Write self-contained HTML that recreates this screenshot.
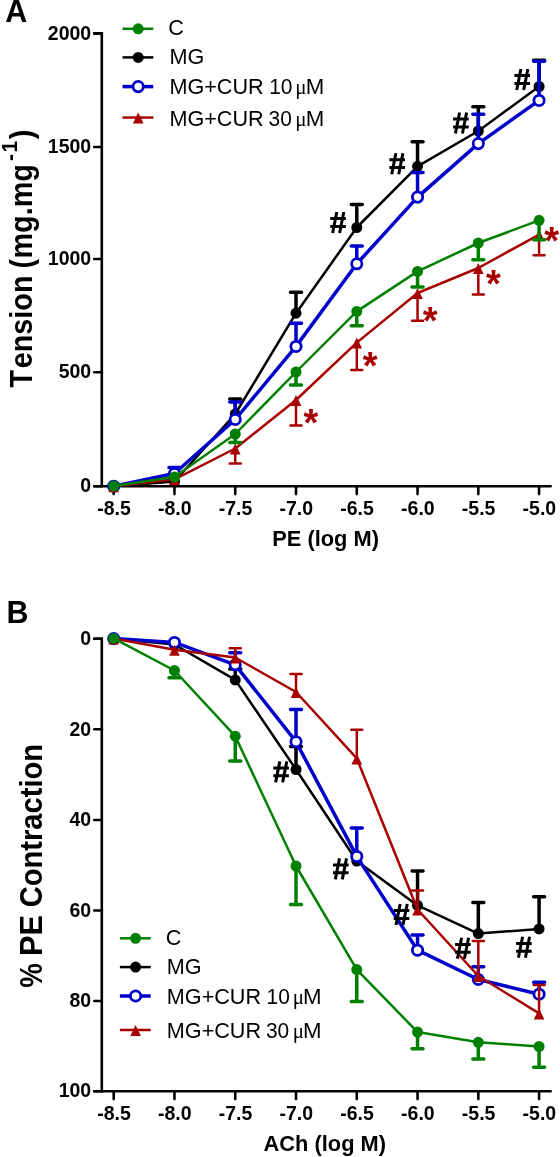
<!DOCTYPE html>
<html><head><meta charset="utf-8"><style>
html,body{margin:0;padding:0;background:#fff;}
body{width:560px;height:1157px;overflow:hidden;}
svg{display:block;filter:blur(0.3px);}
text{font-family:"Liberation Sans",sans-serif;fill:#000;}
.tk{font-size:20.1px;font-weight:bold;}
.at{font-size:22.5px;font-weight:bold;}
.yt{font-weight:bold;}
.pl{font-size:30.5px;font-weight:bold;}
.lg{font-size:21.6px;}
.mu{font-size:21px;font-family:"Liberation Serif",serif;}
.st{font-size:38px;font-weight:bold;fill:#A80000;}
</style></head><body>
<svg width="560" height="1157" viewBox="0 0 560 1157">
<rect width="560" height="1157" fill="#fff"/>
<path d="M94.3,33.40 H101.8 V486.20" stroke="#000" stroke-width="2.6" fill="none" stroke-linecap="round" stroke-linejoin="miter"/>
<path d="M94.3,486.20 H550.6" stroke="#000" stroke-width="2.6" fill="none" stroke-linecap="round"/>
<path d="M94.3,33.40 H101.8" stroke="#000" stroke-width="2.6" stroke-linecap="round"/>
<path d="M94.3,147.00 H101.8" stroke="#000" stroke-width="2.6" stroke-linecap="round"/>
<path d="M94.3,259.00 H101.8" stroke="#000" stroke-width="2.6" stroke-linecap="round"/>
<path d="M94.3,372.20 H101.8" stroke="#000" stroke-width="2.6" stroke-linecap="round"/>
<path d="M94.3,486.20 H101.8" stroke="#000" stroke-width="2.6" stroke-linecap="round"/>
<path d="M113.70,486.20 V494.10" stroke="#000" stroke-width="2.6" stroke-linecap="round"/>
<path d="M174.47,486.20 V494.10" stroke="#000" stroke-width="2.6" stroke-linecap="round"/>
<path d="M235.24,486.20 V494.10" stroke="#000" stroke-width="2.6" stroke-linecap="round"/>
<path d="M296.01,486.20 V494.10" stroke="#000" stroke-width="2.6" stroke-linecap="round"/>
<path d="M356.78,486.20 V494.10" stroke="#000" stroke-width="2.6" stroke-linecap="round"/>
<path d="M417.55,486.20 V494.10" stroke="#000" stroke-width="2.6" stroke-linecap="round"/>
<path d="M478.32,486.20 V494.10" stroke="#000" stroke-width="2.6" stroke-linecap="round"/>
<path d="M539.09,486.20 V494.10" stroke="#000" stroke-width="2.6" stroke-linecap="round"/>
<text transform="translate(91.20,39.60) scale(0.970,1)" class="tk" text-anchor="end">2000</text>
<text transform="translate(91.20,153.20) scale(0.970,1)" class="tk" text-anchor="end">1500</text>
<text transform="translate(91.20,265.20) scale(0.970,1)" class="tk" text-anchor="end">1000</text>
<text transform="translate(91.20,378.40) scale(0.970,1)" class="tk" text-anchor="end">500</text>
<text transform="translate(91.20,492.40) scale(0.970,1)" class="tk" text-anchor="end">0</text>
<text transform="translate(114.00,515.20) scale(0.970,1)" class="tk" text-anchor="middle">-8.5</text>
<text transform="translate(174.77,515.20) scale(0.970,1)" class="tk" text-anchor="middle">-8.0</text>
<text transform="translate(235.54,515.20) scale(0.970,1)" class="tk" text-anchor="middle">-7.5</text>
<text transform="translate(296.31,515.20) scale(0.970,1)" class="tk" text-anchor="middle">-7.0</text>
<text transform="translate(357.08,515.20) scale(0.970,1)" class="tk" text-anchor="middle">-6.5</text>
<text transform="translate(417.85,515.20) scale(0.970,1)" class="tk" text-anchor="middle">-6.0</text>
<text transform="translate(478.62,515.20) scale(0.970,1)" class="tk" text-anchor="middle">-5.5</text>
<text transform="translate(539.39,515.20) scale(0.970,1)" class="tk" text-anchor="middle">-5.0</text>
<text transform="translate(325.60,545.80) scale(0.970,1)" class="at" text-anchor="middle">PE (log M)</text>
<text transform="translate(31.80,387.46) rotate(-90) scale(0.930,1)" font-size="31.00" class="yt">T</text>
<text transform="translate(31.80,368.35) rotate(-90) scale(0.930,1)" font-size="31.00" class="yt">ension</text>
<text transform="translate(31.80,268.44) rotate(-90) scale(0.930,1)" font-size="31.00" class="yt">(</text>
<text transform="translate(31.80,258.57) rotate(-90) scale(0.930,1)" font-size="31.00" class="yt">mg.mg</text>
<text transform="translate(31.80,139.27) rotate(-90) scale(0.930,1)" font-size="31.00" class="yt">)</text>
<text transform="translate(17.40,161.04) rotate(-90) scale(0.930,1)" font-size="22.50" class="yt">-</text>
<text transform="translate(17.40,152.56) rotate(-90) scale(0.930,1)" font-size="22.50" class="yt">1</text>
<text transform="translate(5.20,22.10) scale(1.000,1)" class="pl">A</text>
<path d="M113.70,486.20 L174.47,481.50 L235.24,414.00 L296.01,313.20 L356.78,227.50 L417.55,166.30 L478.32,131.00 L539.09,86.50" fill="none" stroke="#000000" stroke-width="2.5" stroke-linejoin="round"/>
<path d="M235.24,414.00 V399.00 M229.74,399.00 H240.74" stroke="#000000" stroke-width="3.5" stroke-linecap="round" fill="none"/>
<path d="M296.01,313.20 V292.20 M290.51,292.20 H301.51" stroke="#000000" stroke-width="3.5" stroke-linecap="round" fill="none"/>
<path d="M356.78,227.50 V204.50 M351.28,204.50 H362.28" stroke="#000000" stroke-width="3.5" stroke-linecap="round" fill="none"/>
<path d="M417.55,166.30 V141.80 M412.05,141.80 H423.05" stroke="#000000" stroke-width="3.5" stroke-linecap="round" fill="none"/>
<path d="M478.32,131.00 V106.80 M472.82,106.80 H483.82" stroke="#000000" stroke-width="3.5" stroke-linecap="round" fill="none"/>
<path d="M539.09,86.50 V60.20 M533.59,60.20 H544.59" stroke="#000000" stroke-width="3.5" stroke-linecap="round" fill="none"/>
<circle cx="113.70" cy="486.20" r="5.5" fill="#000000"/>
<circle cx="174.47" cy="481.50" r="5.5" fill="#000000"/>
<circle cx="235.24" cy="414.00" r="5.5" fill="#000000"/>
<circle cx="296.01" cy="313.20" r="5.5" fill="#000000"/>
<circle cx="356.78" cy="227.50" r="5.5" fill="#000000"/>
<circle cx="417.55" cy="166.30" r="5.5" fill="#000000"/>
<circle cx="478.32" cy="131.00" r="5.5" fill="#000000"/>
<circle cx="539.09" cy="86.50" r="5.5" fill="#000000"/>
<path d="M113.70,486.20 L174.47,473.50 L235.24,419.50 L296.01,346.40 L356.78,263.80 L417.55,197.10 L478.32,143.60 L539.09,100.40" fill="none" stroke="#0000CC" stroke-width="3.5" stroke-linejoin="round"/>
<path d="M174.47,473.50 V467.60 M168.97,467.60 H179.97" stroke="#0000CC" stroke-width="3.5" stroke-linecap="round" fill="none"/>
<path d="M235.24,419.50 V402.10 M229.74,402.10 H240.74" stroke="#0000CC" stroke-width="3.5" stroke-linecap="round" fill="none"/>
<path d="M296.01,346.40 V323.20 M290.51,323.20 H301.51" stroke="#0000CC" stroke-width="3.5" stroke-linecap="round" fill="none"/>
<path d="M356.78,263.80 V246.00 M351.28,246.00 H362.28" stroke="#0000CC" stroke-width="3.5" stroke-linecap="round" fill="none"/>
<path d="M417.55,197.10 V172.40 M412.05,172.40 H423.05" stroke="#0000CC" stroke-width="3.5" stroke-linecap="round" fill="none"/>
<path d="M478.32,143.60 V114.20 M472.82,114.20 H483.82" stroke="#0000CC" stroke-width="3.5" stroke-linecap="round" fill="none"/>
<path d="M539.09,100.40 V61.20 M533.59,61.20 H544.59" stroke="#0000CC" stroke-width="3.5" stroke-linecap="round" fill="none"/>
<circle cx="113.70" cy="486.20" r="5.15" fill="#fff" stroke="#0000CC" stroke-width="2.75"/>
<circle cx="174.47" cy="473.50" r="5.15" fill="#fff" stroke="#0000CC" stroke-width="2.75"/>
<circle cx="235.24" cy="419.50" r="5.15" fill="#fff" stroke="#0000CC" stroke-width="2.75"/>
<circle cx="296.01" cy="346.40" r="5.15" fill="#fff" stroke="#0000CC" stroke-width="2.75"/>
<circle cx="356.78" cy="263.80" r="5.15" fill="#fff" stroke="#0000CC" stroke-width="2.75"/>
<circle cx="417.55" cy="197.10" r="5.15" fill="#fff" stroke="#0000CC" stroke-width="2.75"/>
<circle cx="478.32" cy="143.60" r="5.15" fill="#fff" stroke="#0000CC" stroke-width="2.75"/>
<circle cx="539.09" cy="100.40" r="5.15" fill="#fff" stroke="#0000CC" stroke-width="2.75"/>
<path d="M113.70,486.20 L174.47,479.30 L235.24,448.50 L296.01,400.00 L356.78,342.60 L417.55,293.00 L478.32,268.00 L539.09,234.60" fill="none" stroke="#A80000" stroke-width="2.5" stroke-linejoin="round"/>
<path d="M235.24,448.50 V463.40 M229.74,463.40 H240.74" stroke="#A80000" stroke-width="2.5" stroke-linecap="round" fill="none"/>
<path d="M296.01,400.00 V425.50 M290.51,425.50 H301.51" stroke="#A80000" stroke-width="2.5" stroke-linecap="round" fill="none"/>
<path d="M356.78,342.60 V370.10 M351.28,370.10 H362.28" stroke="#A80000" stroke-width="2.5" stroke-linecap="round" fill="none"/>
<path d="M417.55,293.00 V320.70 M412.05,320.70 H423.05" stroke="#A80000" stroke-width="2.5" stroke-linecap="round" fill="none"/>
<path d="M478.32,268.00 V294.40 M472.82,294.40 H483.82" stroke="#A80000" stroke-width="2.5" stroke-linecap="round" fill="none"/>
<path d="M539.09,234.60 V255.20 M533.59,255.20 H544.59" stroke="#A80000" stroke-width="2.5" stroke-linecap="round" fill="none"/>
<path d="M113.70,481.20 L119.00,492.20 L108.40,492.20 Z" fill="#A80000"/>
<path d="M174.47,474.30 L179.77,485.30 L169.17,485.30 Z" fill="#A80000"/>
<path d="M235.24,443.50 L240.54,454.50 L229.94,454.50 Z" fill="#A80000"/>
<path d="M296.01,395.00 L301.31,406.00 L290.71,406.00 Z" fill="#A80000"/>
<path d="M356.78,337.60 L362.08,348.60 L351.48,348.60 Z" fill="#A80000"/>
<path d="M417.55,288.00 L422.85,299.00 L412.25,299.00 Z" fill="#A80000"/>
<path d="M478.32,263.00 L483.62,274.00 L473.02,274.00 Z" fill="#A80000"/>
<path d="M539.09,229.60 L544.39,240.60 L533.79,240.60 Z" fill="#A80000"/>
<path d="M113.70,486.00 L174.47,477.10 L235.24,434.00 L296.01,372.00 L356.78,311.40 L417.55,271.40 L478.32,243.00 L539.09,220.30" fill="none" stroke="#008000" stroke-width="2.5" stroke-linejoin="round"/>
<path d="M235.24,434.00 V442.50 M229.74,442.50 H240.74" stroke="#008000" stroke-width="3.5" stroke-linecap="round" fill="none"/>
<path d="M296.01,372.00 V385.10 M290.51,385.10 H301.51" stroke="#008000" stroke-width="3.5" stroke-linecap="round" fill="none"/>
<path d="M356.78,311.40 V325.70 M351.28,325.70 H362.28" stroke="#008000" stroke-width="3.5" stroke-linecap="round" fill="none"/>
<path d="M417.55,271.40 V287.00 M412.05,287.00 H423.05" stroke="#008000" stroke-width="3.5" stroke-linecap="round" fill="none"/>
<path d="M478.32,243.00 V259.80 M472.82,259.80 H483.82" stroke="#008000" stroke-width="3.5" stroke-linecap="round" fill="none"/>
<path d="M539.09,220.30 V239.70 M533.59,239.70 H544.59" stroke="#008000" stroke-width="3.5" stroke-linecap="round" fill="none"/>
<circle cx="113.70" cy="486.00" r="5.5" fill="#008000"/>
<circle cx="174.47" cy="477.10" r="5.5" fill="#008000"/>
<circle cx="235.24" cy="434.00" r="5.5" fill="#008000"/>
<circle cx="296.01" cy="372.00" r="5.5" fill="#008000"/>
<circle cx="356.78" cy="311.40" r="5.5" fill="#008000"/>
<circle cx="417.55" cy="271.40" r="5.5" fill="#008000"/>
<circle cx="478.32" cy="243.00" r="5.5" fill="#008000"/>
<circle cx="539.09" cy="220.30" r="5.5" fill="#008000"/>
<path d="M122.50,28.80 H153.30" stroke="#008000" stroke-width="2.5"/>
<circle cx="138.20" cy="28.80" r="5.5" fill="#008000"/>
<text transform="translate(168.32,35.00) scale(1.000,1)" class="lg">C</text>
<path d="M122.50,57.40 H153.30" stroke="#000000" stroke-width="2.5"/>
<circle cx="138.20" cy="57.40" r="5.5" fill="#000000"/>
<text transform="translate(169.47,64.30) scale(1.000,1)" class="lg">MG</text>
<path d="M122.50,86.60 H153.30" stroke="#0000CC" stroke-width="3.5"/>
<circle cx="138.20" cy="86.60" r="5.15" fill="#fff" stroke="#0000CC" stroke-width="2.75"/>
<text transform="translate(169.47,94.30) scale(1.000,1)" class="lg">MG+CUR</text>
<text transform="translate(269.22,94.30) scale(0.970,1)" class="lg">10</text>
<text transform="translate(295.30,94.30) scale(1.000,1)" class="mu">&#956;</text>
<text transform="translate(305.65,94.30) scale(1.030,1)" class="lg" font-size="22.5">M</text>
<path d="M122.50,117.55 H153.30" stroke="#A80000" stroke-width="2.5"/>
<path d="M138.20,112.55 L143.50,123.55 L132.90,123.55 Z" fill="#A80000"/>
<text transform="translate(169.47,126.20) scale(1.000,1)" class="lg">MG+CUR</text>
<text transform="translate(268.56,126.20) scale(0.970,1)" class="lg">30</text>
<text transform="translate(295.30,126.20) scale(1.000,1)" class="mu">&#956;</text>
<text transform="translate(305.65,126.20) scale(1.030,1)" class="lg" font-size="22.5">M</text>
<path d="M336.80,212.00 L332.60,233.00 M343.80,212.00 L339.60,233.00 M330.30,218.60 H345.90 M330.30,226.40 H345.90" stroke="#000" stroke-width="3" fill="none"/>
<path d="M395.90,153.20 L391.70,174.20 M402.90,153.20 L398.70,174.20 M389.40,159.80 H405.00 M389.40,167.60 H405.00" stroke="#000" stroke-width="3" fill="none"/>
<path d="M459.60,112.50 L455.40,133.50 M466.60,112.50 L462.40,133.50 M453.10,119.10 H468.70 M453.10,126.90 H468.70" stroke="#000" stroke-width="3" fill="none"/>
<path d="M520.90,69.00 L516.70,90.00 M527.90,69.00 L523.70,90.00 M514.40,75.60 H530.00 M514.40,83.40 H530.00" stroke="#000" stroke-width="3" fill="none"/>
<text x="310.80" y="435.50" class="st" text-anchor="middle">*</text>
<text x="370.10" y="378.90" class="st" text-anchor="middle">*</text>
<text x="430.10" y="334.10" class="st" text-anchor="middle">*</text>
<text x="493.50" y="296.50" class="st" text-anchor="middle">*</text>
<text x="551.70" y="254.20" class="st" text-anchor="middle">*</text>
<path d="M94.3,638.80 H101.8 V1091.20" stroke="#000" stroke-width="2.6" fill="none" stroke-linecap="round" stroke-linejoin="miter"/>
<path d="M94.3,1091.20 H550.6" stroke="#000" stroke-width="2.6" fill="none" stroke-linecap="round"/>
<path d="M94.3,638.80 H101.8" stroke="#000" stroke-width="2.6" stroke-linecap="round"/>
<path d="M94.3,729.30 H101.8" stroke="#000" stroke-width="2.6" stroke-linecap="round"/>
<path d="M94.3,820.00 H101.8" stroke="#000" stroke-width="2.6" stroke-linecap="round"/>
<path d="M94.3,910.50 H101.8" stroke="#000" stroke-width="2.6" stroke-linecap="round"/>
<path d="M94.3,1001.00 H101.8" stroke="#000" stroke-width="2.6" stroke-linecap="round"/>
<path d="M94.3,1091.20 H101.8" stroke="#000" stroke-width="2.6" stroke-linecap="round"/>
<path d="M113.70,1091.20 V1099.10" stroke="#000" stroke-width="2.6" stroke-linecap="round"/>
<path d="M174.47,1091.20 V1099.10" stroke="#000" stroke-width="2.6" stroke-linecap="round"/>
<path d="M235.24,1091.20 V1099.10" stroke="#000" stroke-width="2.6" stroke-linecap="round"/>
<path d="M296.01,1091.20 V1099.10" stroke="#000" stroke-width="2.6" stroke-linecap="round"/>
<path d="M356.78,1091.20 V1099.10" stroke="#000" stroke-width="2.6" stroke-linecap="round"/>
<path d="M417.55,1091.20 V1099.10" stroke="#000" stroke-width="2.6" stroke-linecap="round"/>
<path d="M478.32,1091.20 V1099.10" stroke="#000" stroke-width="2.6" stroke-linecap="round"/>
<path d="M539.09,1091.20 V1099.10" stroke="#000" stroke-width="2.6" stroke-linecap="round"/>
<text transform="translate(91.20,645.00) scale(0.970,1)" class="tk" text-anchor="end">0</text>
<text transform="translate(91.20,735.50) scale(0.970,1)" class="tk" text-anchor="end">20</text>
<text transform="translate(91.20,826.20) scale(0.970,1)" class="tk" text-anchor="end">40</text>
<text transform="translate(91.20,916.70) scale(0.970,1)" class="tk" text-anchor="end">60</text>
<text transform="translate(91.20,1007.20) scale(0.970,1)" class="tk" text-anchor="end">80</text>
<text transform="translate(91.20,1097.40) scale(0.970,1)" class="tk" text-anchor="end">100</text>
<text transform="translate(114.00,1120.30) scale(0.970,1)" class="tk" text-anchor="middle">-8.5</text>
<text transform="translate(174.77,1120.30) scale(0.970,1)" class="tk" text-anchor="middle">-8.0</text>
<text transform="translate(235.54,1120.30) scale(0.970,1)" class="tk" text-anchor="middle">-7.5</text>
<text transform="translate(296.31,1120.30) scale(0.970,1)" class="tk" text-anchor="middle">-7.0</text>
<text transform="translate(357.08,1120.30) scale(0.970,1)" class="tk" text-anchor="middle">-6.5</text>
<text transform="translate(417.85,1120.30) scale(0.970,1)" class="tk" text-anchor="middle">-6.0</text>
<text transform="translate(478.62,1120.30) scale(0.970,1)" class="tk" text-anchor="middle">-5.5</text>
<text transform="translate(539.39,1120.30) scale(0.970,1)" class="tk" text-anchor="middle">-5.0</text>
<text transform="translate(324.80,1151.20) scale(0.970,1)" class="at" text-anchor="middle">ACh (log M)</text>
<text transform="translate(42.10,987.69) rotate(-90) scale(0.870,1)" font-size="31.70" class="yt">%</text>
<text transform="translate(42.10,955.88) rotate(-90) scale(0.970,1)" font-size="31.70" class="yt">PE</text>
<text transform="translate(42.10,907.16) rotate(-90) scale(0.918,1)" font-size="31.70" class="yt">Contraction</text>
<text transform="translate(6.50,623.00) scale(1.000,1)" class="pl">B</text>
<path d="M113.70,638.60 L174.47,644.50 L235.24,679.90 L296.01,769.50 L356.78,861.00 L417.55,905.40 L478.32,933.60 L539.09,928.90" fill="none" stroke="#000000" stroke-width="2.5" stroke-linejoin="round"/>
<path d="M235.24,679.90 V669.00 M229.74,669.00 H240.74" stroke="#000000" stroke-width="3.5" stroke-linecap="round" fill="none"/>
<path d="M296.01,769.50 V746.50 M290.51,746.50 H301.51" stroke="#000000" stroke-width="3.5" stroke-linecap="round" fill="none"/>
<path d="M417.55,905.40 V871.10 M412.05,871.10 H423.05" stroke="#000000" stroke-width="3.5" stroke-linecap="round" fill="none"/>
<path d="M478.32,933.60 V902.50 M472.82,902.50 H483.82" stroke="#000000" stroke-width="3.5" stroke-linecap="round" fill="none"/>
<path d="M539.09,928.90 V896.70 M533.59,896.70 H544.59" stroke="#000000" stroke-width="3.5" stroke-linecap="round" fill="none"/>
<circle cx="113.70" cy="638.60" r="5.5" fill="#000000"/>
<circle cx="174.47" cy="644.50" r="5.5" fill="#000000"/>
<circle cx="235.24" cy="679.90" r="5.5" fill="#000000"/>
<circle cx="296.01" cy="769.50" r="5.5" fill="#000000"/>
<circle cx="356.78" cy="861.00" r="5.5" fill="#000000"/>
<circle cx="417.55" cy="905.40" r="5.5" fill="#000000"/>
<circle cx="478.32" cy="933.60" r="5.5" fill="#000000"/>
<circle cx="539.09" cy="928.90" r="5.5" fill="#000000"/>
<path d="M113.70,638.60 L174.47,642.40 L235.24,664.80 L296.01,741.70 L356.78,856.40 L417.55,950.20 L478.32,979.50 L539.09,994.20" fill="none" stroke="#0000CC" stroke-width="3.5" stroke-linejoin="round"/>
<path d="M235.24,664.80 V652.70 M229.74,652.70 H240.74" stroke="#0000CC" stroke-width="3.5" stroke-linecap="round" fill="none"/>
<path d="M296.01,741.70 V709.60 M290.51,709.60 H301.51" stroke="#0000CC" stroke-width="3.5" stroke-linecap="round" fill="none"/>
<path d="M356.78,856.40 V827.90 M351.28,827.90 H362.28" stroke="#0000CC" stroke-width="3.5" stroke-linecap="round" fill="none"/>
<path d="M417.55,950.20 V934.90 M412.05,934.90 H423.05" stroke="#0000CC" stroke-width="3.5" stroke-linecap="round" fill="none"/>
<path d="M478.32,979.50 V966.70 M472.82,966.70 H483.82" stroke="#0000CC" stroke-width="3.5" stroke-linecap="round" fill="none"/>
<path d="M539.09,994.20 V982.20 M533.59,982.20 H544.59" stroke="#0000CC" stroke-width="3.5" stroke-linecap="round" fill="none"/>
<circle cx="113.70" cy="638.60" r="5.15" fill="#fff" stroke="#0000CC" stroke-width="2.75"/>
<circle cx="174.47" cy="642.40" r="5.15" fill="#fff" stroke="#0000CC" stroke-width="2.75"/>
<circle cx="235.24" cy="664.80" r="5.15" fill="#fff" stroke="#0000CC" stroke-width="2.75"/>
<circle cx="296.01" cy="741.70" r="5.15" fill="#fff" stroke="#0000CC" stroke-width="2.75"/>
<circle cx="356.78" cy="856.40" r="5.15" fill="#fff" stroke="#0000CC" stroke-width="2.75"/>
<circle cx="417.55" cy="950.20" r="5.15" fill="#fff" stroke="#0000CC" stroke-width="2.75"/>
<circle cx="478.32" cy="979.50" r="5.15" fill="#fff" stroke="#0000CC" stroke-width="2.75"/>
<circle cx="539.09" cy="994.20" r="5.15" fill="#fff" stroke="#0000CC" stroke-width="2.75"/>
<path d="M113.70,638.60 L174.47,649.80 L235.24,657.50 L296.01,692.00 L356.78,758.40 L417.55,909.50 L478.32,976.00 L539.09,1013.40" fill="none" stroke="#A80000" stroke-width="2.5" stroke-linejoin="round"/>
<path d="M235.24,657.50 V648.20 M229.74,648.20 H240.74" stroke="#A80000" stroke-width="2.5" stroke-linecap="round" fill="none"/>
<path d="M296.01,692.00 V673.90 M290.51,673.90 H301.51" stroke="#A80000" stroke-width="2.5" stroke-linecap="round" fill="none"/>
<path d="M356.78,758.40 V729.70 M351.28,729.70 H362.28" stroke="#A80000" stroke-width="2.5" stroke-linecap="round" fill="none"/>
<path d="M417.55,909.50 V890.50 M412.05,890.50 H423.05" stroke="#A80000" stroke-width="2.5" stroke-linecap="round" fill="none"/>
<path d="M478.32,976.00 V941.10 M472.82,941.10 H483.82" stroke="#A80000" stroke-width="2.5" stroke-linecap="round" fill="none"/>
<path d="M539.09,1013.40 V985.00 M533.59,985.00 H544.59" stroke="#A80000" stroke-width="2.5" stroke-linecap="round" fill="none"/>
<path d="M113.70,633.60 L119.00,644.60 L108.40,644.60 Z" fill="#A80000"/>
<path d="M174.47,644.80 L179.77,655.80 L169.17,655.80 Z" fill="#A80000"/>
<path d="M235.24,652.50 L240.54,663.50 L229.94,663.50 Z" fill="#A80000"/>
<path d="M296.01,687.00 L301.31,698.00 L290.71,698.00 Z" fill="#A80000"/>
<path d="M356.78,753.40 L362.08,764.40 L351.48,764.40 Z" fill="#A80000"/>
<path d="M417.55,904.50 L422.85,915.50 L412.25,915.50 Z" fill="#A80000"/>
<path d="M478.32,971.00 L483.62,982.00 L473.02,982.00 Z" fill="#A80000"/>
<path d="M539.09,1008.40 L544.39,1019.40 L533.79,1019.40 Z" fill="#A80000"/>
<path d="M113.70,638.40 L174.47,670.50 L235.24,736.20 L296.01,866.00 L356.78,969.60 L417.55,1032.10 L478.32,1042.30 L539.09,1046.50" fill="none" stroke="#008000" stroke-width="2.5" stroke-linejoin="round"/>
<path d="M174.47,670.50 V677.70 M168.97,677.70 H179.97" stroke="#008000" stroke-width="3.5" stroke-linecap="round" fill="none"/>
<path d="M235.24,736.20 V761.00 M229.74,761.00 H240.74" stroke="#008000" stroke-width="3.5" stroke-linecap="round" fill="none"/>
<path d="M296.01,866.00 V904.40 M290.51,904.40 H301.51" stroke="#008000" stroke-width="3.5" stroke-linecap="round" fill="none"/>
<path d="M356.78,969.60 V1001.40 M351.28,1001.40 H362.28" stroke="#008000" stroke-width="3.5" stroke-linecap="round" fill="none"/>
<path d="M417.55,1032.10 V1048.80 M412.05,1048.80 H423.05" stroke="#008000" stroke-width="3.5" stroke-linecap="round" fill="none"/>
<path d="M478.32,1042.30 V1059.10 M472.82,1059.10 H483.82" stroke="#008000" stroke-width="3.5" stroke-linecap="round" fill="none"/>
<path d="M539.09,1046.50 V1067.30 M533.59,1067.30 H544.59" stroke="#008000" stroke-width="3.5" stroke-linecap="round" fill="none"/>
<circle cx="113.70" cy="638.40" r="5.5" fill="#008000"/>
<circle cx="174.47" cy="670.50" r="5.5" fill="#008000"/>
<circle cx="235.24" cy="736.20" r="5.5" fill="#008000"/>
<circle cx="296.01" cy="866.00" r="5.5" fill="#008000"/>
<circle cx="356.78" cy="969.60" r="5.5" fill="#008000"/>
<circle cx="417.55" cy="1032.10" r="5.5" fill="#008000"/>
<circle cx="478.32" cy="1042.30" r="5.5" fill="#008000"/>
<circle cx="539.09" cy="1046.50" r="5.5" fill="#008000"/>
<path d="M119.90,938.30 H150.70" stroke="#008000" stroke-width="2.5"/>
<circle cx="135.60" cy="938.30" r="5.5" fill="#008000"/>
<text transform="translate(165.72,945.00) scale(1.000,1)" class="lg">C</text>
<path d="M119.90,967.10 H150.70" stroke="#000000" stroke-width="2.5"/>
<circle cx="135.60" cy="967.10" r="5.5" fill="#000000"/>
<text transform="translate(166.87,973.70) scale(1.000,1)" class="lg">MG</text>
<path d="M119.90,996.00 H150.70" stroke="#0000CC" stroke-width="3.5"/>
<circle cx="135.60" cy="996.00" r="5.15" fill="#fff" stroke="#0000CC" stroke-width="2.75"/>
<text transform="translate(166.87,1004.30) scale(1.000,1)" class="lg">MG+CUR</text>
<text transform="translate(266.62,1004.30) scale(0.970,1)" class="lg">10</text>
<text transform="translate(292.70,1004.30) scale(1.000,1)" class="mu">&#956;</text>
<text transform="translate(303.05,1004.30) scale(1.030,1)" class="lg" font-size="22.5">M</text>
<path d="M119.90,1030.00 H150.70" stroke="#A80000" stroke-width="2.5"/>
<path d="M135.60,1025.00 L140.90,1036.00 L130.30,1036.00 Z" fill="#A80000"/>
<text transform="translate(166.87,1038.00) scale(1.000,1)" class="lg">MG+CUR</text>
<text transform="translate(265.96,1038.00) scale(0.970,1)" class="lg">30</text>
<text transform="translate(292.70,1038.00) scale(1.000,1)" class="mu">&#956;</text>
<text transform="translate(303.05,1038.00) scale(1.030,1)" class="lg" font-size="22.5">M</text>
<path d="M279.80,761.40 L275.60,782.40 M286.80,761.40 L282.60,782.40 M273.30,768.00 H288.90 M273.30,775.80 H288.90" stroke="#000" stroke-width="3" fill="none"/>
<path d="M339.50,858.40 L335.30,879.40 M346.50,858.40 L342.30,879.40 M333.00,865.00 H348.60 M333.00,872.80 H348.60" stroke="#000" stroke-width="3" fill="none"/>
<path d="M400.20,904.00 L396.00,925.00 M407.20,904.00 L403.00,925.00 M393.70,910.60 H409.30 M393.70,918.40 H409.30" stroke="#000" stroke-width="3" fill="none"/>
<path d="M461.60,937.80 L457.40,958.80 M468.60,937.80 L464.40,958.80 M455.10,944.40 H470.70 M455.10,952.20 H470.70" stroke="#000" stroke-width="3" fill="none"/>
<path d="M522.60,936.80 L518.40,957.80 M529.60,936.80 L525.40,957.80 M516.10,943.40 H531.70 M516.10,951.20 H531.70" stroke="#000" stroke-width="3" fill="none"/>
</svg>
</body></html>
